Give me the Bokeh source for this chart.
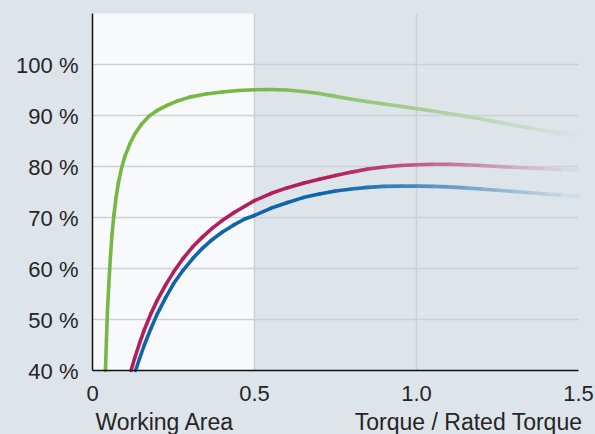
from bokeh.plotting import figure
from bokeh.models import Range1d, ColumnDataSource
from bokeh.core.properties import value
from bokeh.embed import file_html
from bokeh.resources import INLINE

# ---- data ----
green_x = [0.040, 0.043, 0.046, 0.050, 0.055, 0.060, 0.066, 0.073, 0.080, 0.090, 0.100, 0.115,
           0.130, 0.150, 0.175, 0.200, 0.230, 0.260, 0.300, 0.350, 0.400, 0.450, 0.500,
           0.55, 0.60, 0.65, 0.70, 0.75, 0.80, 0.85, 0.90, 0.95, 1.00,
           1.05, 1.10, 1.15, 1.20, 1.25, 1.30, 1.35, 1.40, 1.45, 1.50]
green_y = [40.0, 46.0, 51.5, 56.5, 62.0, 66.5, 70.5, 74.0, 76.8, 79.8, 82.0, 84.4,
           86.3, 88.2, 89.9, 91.0, 92.0, 92.8, 93.6, 94.2, 94.6, 94.9, 95.05,
           95.1, 95.0, 94.7, 94.3, 93.75, 93.2, 92.7, 92.25, 91.8, 91.35,
           90.9, 90.4, 89.85, 89.3, 88.7, 88.1, 87.55, 87.0, 86.5, 86.0]

red_x = [0.119, 0.130, 0.145, 0.160, 0.180, 0.200, 0.225, 0.250, 0.280, 0.310, 0.340, 0.370,
         0.400, 0.435, 0.470, 0.500, 0.55, 0.60, 0.65, 0.70, 0.75, 0.80, 0.85, 0.90, 0.95,
         1.00, 1.05, 1.10, 1.15, 1.20, 1.25, 1.30, 1.35, 1.40, 1.45, 1.50]
red_y = [40.0, 42.4, 45.3, 48.0, 51.1, 53.8, 56.7, 59.3, 62.0, 64.3, 66.2, 67.9,
         69.4, 70.9, 72.2, 73.3, 74.7, 75.8, 76.7, 77.5, 78.25, 78.9, 79.5, 79.9, 80.2,
         80.35, 80.45, 80.45, 80.35, 80.2, 80.0, 79.85, 79.7, 79.55, 79.4, 79.3]

blue_x = [0.133, 0.145, 0.160, 0.180, 0.200, 0.225, 0.250, 0.280, 0.310, 0.340, 0.370,
          0.400, 0.435, 0.470, 0.500, 0.55, 0.60, 0.65, 0.70, 0.75, 0.80, 0.85, 0.90, 0.95,
          1.00, 1.05, 1.10, 1.15, 1.20, 1.25, 1.30, 1.35, 1.40, 1.45, 1.50]
blue_y = [40.0, 42.3, 45.0, 48.2, 51.1, 54.2, 57.0, 59.7, 62.0, 64.0, 65.7,
          67.1, 68.5, 69.7, 70.4, 71.8, 72.9, 73.9, 74.6, 75.2, 75.6, 75.9, 76.1, 76.15,
          76.15, 76.1, 76.0, 75.8, 75.6, 75.35, 75.1, 74.85, 74.6, 74.35, 74.1]

x_ticks = [0, 0.5, 1.0, 1.5]
x_tick_labels = ["0", "0.5", "1.0", "1.5"]
y_ticks = [40, 50, 60, 70, 80, 90, 100]
y_tick_labels = ["40 %", "50 %", "60 %", "70 %", "80 %", "90 %", "100 %"]
work_area_end = 0.5
x_label_left = "Working Area"
x_label_right = "Torque / Rated Torque"

# ---- style / layout ----
BG = "#dde4ea"
WORK_BG = "#f7f9fb"
GRID = "#cdd1d5"
AXIS = "#111111"
TXT = "#262426"
FONT = "Liberation Sans"
FS = "22px"
FS_CAP = "23px"
X_MIN, X_MAX = 0.0, 1.5
Y_MIN, Y_MAX = 40.0, 110.0
PX_PER_X = 324.0
PX_PER_Y = 5.1
W, H = 595, 434
ORIGIN_X, ORIGIN_Y = 92, 370   # canvas pixel of (0, 40)

# colour, fade start, fade end strength, fade curve exponent
series = [
    (green_x, green_y, "#76b843", 0.50, 0.03, 1.0),
    (red_x, red_y, "#b41e5a", 0.72, 0.02, 1.15),
    (blue_x, blue_y, "#1064aa", 0.72, 0.03, 1.15),
]


def blend(hex_color, f, bg=BG):
    c = [int(hex_color[i:i + 2], 16) for i in (1, 3, 5)]
    b = [int(bg[i:i + 2], 16) for i in (1, 3, 5)]
    m = [round(bb + (cc - bb) * f) for cc, bb in zip(c, b)]
    return "#%02x%02x%02x" % tuple(m)


x_lo = X_MIN - ORIGIN_X / PX_PER_X
x_hi = X_MIN + (W - ORIGIN_X) / PX_PER_X
y_lo = Y_MIN - (H - ORIGIN_Y) / PX_PER_Y
y_hi = Y_MIN + ORIGIN_Y / PX_PER_Y

p = figure(width=W, height=H, x_range=Range1d(x_lo, x_hi), y_range=Range1d(y_lo, y_hi),
           output_backend="svg", toolbar_location=None,
           x_axis_location=None, y_axis_location=None,
           min_border_left=0, min_border_right=0, min_border_top=0, min_border_bottom=0)
p.background_fill_color = BG
p.border_fill_color = BG
p.outline_line_color = None
p.xgrid.visible = False
p.ygrid.visible = False

# working area
p.quad(left=X_MIN, right=work_area_end, bottom=Y_MIN, top=Y_MAX, fill_color=WORK_BG,
       line_color=None)

# grid lines
hy = y_ticks[1:]
p.segment(x0=[X_MIN] * len(hy), y0=hy, x1=[X_MAX] * len(hy), y1=hy,
          line_color=GRID, line_width=1.5)
vx = x_ticks[1:3]
p.segment(x0=vx, y0=[Y_MIN] * len(vx), x1=vx, y1=[Y_MAX] * len(vx),
          line_color=GRID, line_width=1.5)

# curves with fading tails
for xs, ys, col, f0, f1, ex in series:
    x0, y0, x1, y1, cols = [], [], [], [], []
    for i in range(len(xs) - 1):
        xm = 0.5 * (xs[i] + xs[i + 1])
        if xm <= f0:
            f = 1.0
        else:
            t = (xm - f0) / (X_MAX - f0)
            f = 1.0 - (1.0 - f1) * t ** ex
        x0.append(xs[i]); y0.append(ys[i]); x1.append(xs[i + 1]); y1.append(ys[i + 1])
        cols.append(blend(col, f))
    src = ColumnDataSource(dict(x0=x0, y0=y0, x1=x1, y1=y1, c=cols))
    p.segment(x0="x0", y0="y0", x1="x1", y1="y1", line_color="c", line_width=3.6,
              line_cap="round", source=src)

# axis lines
p.segment(x0=[X_MIN, X_MIN], y0=[Y_MIN, Y_MIN], x1=[X_MAX, X_MIN], y1=[Y_MIN, Y_MAX],
          line_color=AXIS, line_width=1.5)

# x tick labels
p.text(x=x_ticks, y=[Y_MIN] * len(x_ticks), text=x_tick_labels, y_offset=23,
       text_align="center", text_baseline="middle", text_font=value(FONT),
       text_font_size=FS, text_color=TXT)

# y tick labels
p.text(x=[X_MIN] * len(y_ticks), y=y_ticks, text=y_tick_labels, x_offset=-14, y_offset=1,
       text_align="right", text_baseline="middle", text_font=value(FONT),
       text_font_size=FS, text_color=TXT)

# x axis captions
p.text(x=[0.009], y=[Y_MIN], text=[x_label_left], y_offset=51, text_align="left",
       text_baseline="middle", text_font=value(FONT), text_font_size=FS_CAP, text_color=TXT)
p.text(x=[1.512], y=[Y_MIN], text=[x_label_right], y_offset=51, text_align="right",
       text_baseline="middle", text_font=value(FONT), text_font_size=FS_CAP, text_color=TXT)

html = file_html(p, INLINE)
html = html.replace("</head>", "<style>body{background:%s;}</style></head>" % BG, 1)
open("out.html", "w").write(html)
